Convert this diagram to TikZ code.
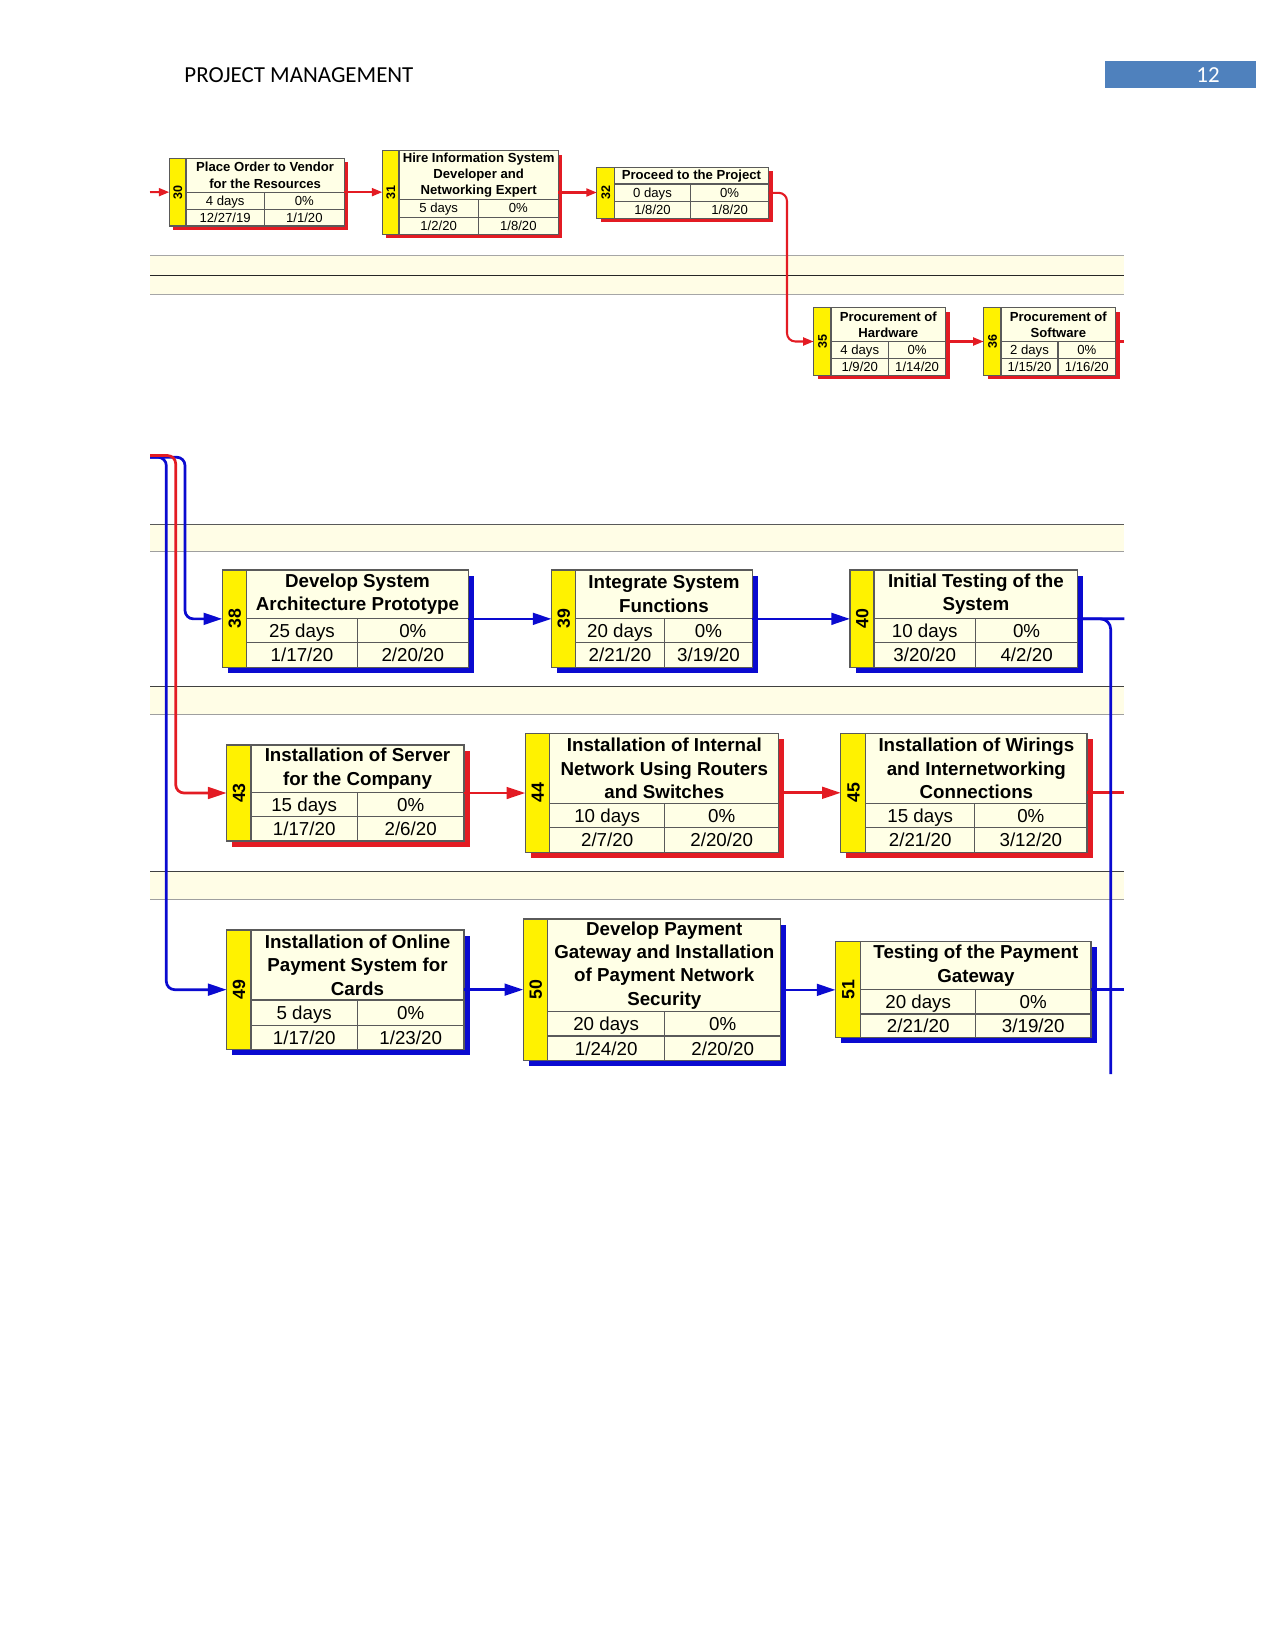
\documentclass[tikz,border=0pt]{standalone}
\usepackage{fontspec}
\setmainfont{Liberation Sans}
\newfontfamily\hdrfont{Carlito}
\usetikzlibrary{arrows.meta}
\definecolor{cream}{HTML}{FFFFE6}
\definecolor{bandfill}{HTML}{FFFDE6}
\definecolor{boxline}{HTML}{5A5A5A}
\definecolor{pertred}{HTML}{E31B23}
\definecolor{pertblue}{HTML}{0A0AD0}
\definecolor{hdrblue}{HTML}{4F81BD}
\tikzset{
  taskbox/.style={draw=boxline, line width=0.6pt, fill=cream, inner sep=0pt, outer sep=0pt, rectangle},
  divline/.style={draw=boxline, line width=0.5pt},
  redconn/.style={draw=pertred, line width=1pt},
  redconnB/.style={draw=pertred, line width=1.3pt},
  blueconn/.style={draw=pertblue, line width=1.3pt},
  tipS/.style={-{Triangle[length=5pt,width=3.8pt]}},
  tipB/.style={-{Triangle[length=9pt,width=5.6pt]}},
  small title/.style={font=\bfseries\fontsize{6.3}{7.8}\selectfont, align=center, inner sep=0pt},
  small cell/.style={font=\fontsize{6.3}{7.6}\selectfont, inner sep=0pt, text height=4.5pt, text depth=0pt},
  small num/.style={font=\bfseries\fontsize{6}{7}\selectfont, inner sep=0pt, text height=4.3pt, text depth=0pt},
  big title/.style={font=\bfseries\fontsize{9}{11.2}\selectfont, align=center, inner sep=0pt},
  big cell/.style={font=\fontsize{9}{11}\selectfont, inner sep=0pt, text height=6.4pt, text depth=0pt},
  big num/.style={font=\bfseries\fontsize{8.5}{9}\selectfont, inner sep=0pt, text height=6pt, text depth=0pt},
  bandline/.style={line width=0.4pt},
}
\newcommand\tgeom[9]{\def\tname{#1}\def\txa{#2}\def\tya{#3}\def\txb{#4}\def\tyb{#5}\def\txs{#6}\def\tyt{#7}\def\tyr{#8}\def\txc{#9}}
\newcommand\ttask[9]{%
  \fill[#1] ({\txa+#2},{\tya+#2}) rectangle ({\txb+#2},{\tyb+#2});
  \node[taskbox, minimum width={(\txb-\txa)*0.48pt}, minimum height={(\tyb-\tya)*0.48pt}] (\tname) at ({(\txa+\txb)/2},{(\tya+\tyb)/2}) {};
  \fill[yellow] (\txa,\tya) rectangle (\txs,\tyb);
  \draw[divline] (\txs,\tya) -- (\txs,\tyb) (\txs,\tyt) -- (\txb,\tyt) (\txs,\tyr) -- (\txb,\tyr) (\txc,\tyt) -- (\txc,\tyb);
  \draw[draw=boxline, line width=0.6pt] (\txa,\tya) rectangle (\txb,\tyb);
  \node[#3 title] (\tname-t) at ({(\txs+\txb)/2},{(\tya+\tyt)/2}) {#5};
  \node[#3 cell] (\tname-d) at ({(\txs+\txc)/2},{(\tyt+\tyr)/2}) {#6};
  \node[#3 cell] (\tname-p) at ({(\txc+\txb)/2},{(\tyt+\tyr)/2}) {#7};
  \node[#3 cell] (\tname-s) at ({(\txs+\txc)/2},{(\tyr+\tyb)/2}) {#8};
  \node[#3 cell] (\tname-f) at ({(\txc+\txb)/2},{(\tyr+\tyb)/2}) {#9};
  \node[#3 num, rotate=90] (\tname-n) at ({(\txa+\txs)/2},{(\tya+\tyb)/2}) {#4};
}
\begin{document}
\begin{tikzpicture}[x=0.48pt,y=-0.48pt]
\useasboundingbox (0,0) rectangle (1275,1651);
% header
\node[font=\hdrfont\fontsize{11}{13}\selectfont, anchor=base west, inner sep=0pt] (hdr) at (184,82.5) {PROJECT MANAGEMENT};
\node[fill=hdrblue, minimum width={151*0.48pt}, minimum height={27*0.48pt}, inner sep=0pt] (pg) at (1180.5,74.5) {};
\node[font=\hdrfont\fontsize{11}{13}\selectfont, anchor=base, text=white, inner sep=0pt] (pgnum) at (1208,82.5) {12};
% bands
\fill[bandfill] (150,255.7) rectangle (1124.4,294.3);
\draw[bandline, gray!70] (150,255.7) -- (1124.4,255.7);
\draw[bandline, black!85] (150,275) -- (1124.4,275);
\draw[bandline, gray!70] (150,294.3) -- (1124.4,294.3);
\fill[bandfill] (150,524.3) rectangle (1124.4,551.7);
\draw[bandline, black!65] (150,524.3) -- (1124.4,524.3);
\draw[bandline, gray!75] (150,551.7) -- (1124.4,551.7);
\fill[bandfill] (150,686) rectangle (1124.4,714);
\draw[bandline, black!75] (150,686) -- (1124.4,686);
\draw[bandline, gray!75] (150,714) -- (1124.4,714);
\fill[bandfill] (150,871.7) rectangle (1124.4,899);
\draw[bandline, black!75] (150,871.7) -- (1124.4,871.7);
\draw[bandline, gray!75] (150,899) -- (1124.4,899);
% small tasks
\tgeom{n30}{169.3}{158.3}{344.3}{226}{186}{192.3}{209.3}{264.3}
\ttask{pertred}{4}{small}{30}{Place Order to Vendor\\for the Resources}{4 days}{0\%}{12/27/19}{1/1/20}
\tgeom{n31}{382.3}{150.7}{558.3}{234.3}{399}{199.3}{217.3}{478.3}
\ttask{pertred}{4}{small}{31}{Hire Information System\\Developer and\\Networking Expert}{5 days}{0\%}{1/2/20}{1/8/20}
\tgeom{n32}{596.8}{167.3}{768.6}{218.3}{614.3}{184}{201.3}{690.7}
\ttask{pertred}{4}{small}{32}{Proceed to the Project}{0 days}{0\%}{1/8/20}{1/8/20}
\tgeom{n35}{813.6}{307.7}{945.7}{375.3}{831}{341.3}{358.3}{888.5}
\ttask{pertred}{4}{small}{35}{Procurement of\\Hardware}{4 days}{0\%}{1/9/20}{1/14/20}
\tgeom{n36}{983.6}{307.7}{1115.7}{375.3}{1001}{341.3}{358.3}{1058}
\ttask{pertred}{4}{small}{36}{Procurement of\\Software}{2 days}{0\%}{1/15/20}{1/16/20}
% big tasks
\tgeom{n38}{222.3}{570}{468.3}{667.7}{246.7}{618.3}{642.7}{357.3}
\ttask{pertblue}{5.5}{big}{38}{Develop System\\Architecture Prototype}{25 days}{0\%}{1/17/20}{2/20/20}
\tgeom{n39}{551.5}{570}{752.4}{667.7}{575.6}{618.3}{642.7}{664.4}
\ttask{pertblue}{5.5}{big}{39}{Integrate System\\Functions}{20 days}{0\%}{2/21/20}{3/19/20}
\tgeom{n40}{850}{570}{1077.7}{667.7}{874}{618.3}{642.7}{975.5}
\ttask{pertblue}{5.5}{big}{40}{Initial Testing of the\\System}{10 days}{0\%}{3/20/20}{4/2/20}
\tgeom{n43}{226.7}{745}{464}{841}{251}{792.3}{816.7}{357.3}
\ttask{pertred}{5.5}{big}{43}{Installation of Server\\for the Company}{15 days}{0\%}{1/17/20}{2/6/20}
\tgeom{n44}{525.3}{733.3}{778.8}{852.3}{549.8}{803.3}{827.7}{664.5}
\ttask{pertred}{5.5}{big}{44}{Installation of Internal\\Network Using Routers\\and Switches}{10 days}{0\%}{2/7/20}{2/20/20}
\tgeom{n45}{840.8}{733.3}{1087}{852.3}{865.7}{803.3}{827.7}{974.7}
\ttask{pertred}{5.5}{big}{45}{Installation of Wirings\\and Internetworking\\Connections}{15 days}{0\%}{2/21/20}{3/12/20}
\tgeom{n49}{226.7}{930}{464}{1049.3}{251}{1000}{1025.7}{357.3}
\ttask{pertblue}{5.5}{big}{49}{Installation of Online\\Payment System for\\Cards}{5 days}{0\%}{1/17/20}{1/23/20}
\tgeom{n50}{523.3}{919}{780.8}{1060.7}{547.8}{1011.7}{1036}{664.5}
\ttask{pertblue}{5.5}{big}{50}{Develop Payment\\Gateway and Installation\\of Payment Network\\Security}{20 days}{0\%}{1/24/20}{2/20/20}
\tgeom{n51}{835.5}{941.7}{1091}{1037.7}{860.8}{989.3}{1014}{975.5}
\ttask{pertblue}{5.5}{big}{51}{Testing of the Payment\\Gateway}{20 days}{0\%}{2/21/20}{3/19/20}
% top connectors
\coordinate (in30) at (150,192.2);
\draw[redconn, tipS] (in30) -- (n30.west);
\draw[redconn, tipS] (n30.east) -- (n31.west |- n30.east);
\draw[redconn, tipS] (n31.east) -- (n32.west |- n31.east);
\coordinate (c32) at (787,260);
\draw[redconn, tipS, rounded corners=4] (n32.east) -| (c32) |- (n35.west);
\draw[redconn, tipS] (n35.east) -- (n36.west);
\coordinate (out36) at (1124.4,341.5);
\draw[redconn] (n36.east) -- (out36);
% lower incoming connectors
\coordinate (in38) at (150,457.2);
\coordinate (t38) at (185,480);
\draw[blueconn, tipB, rounded corners=4] (in38) -| (t38) |- (n38.west);
\coordinate (in49) at (150,457.2);
\coordinate (t49) at (166.3,480);
\draw[blueconn, tipB, rounded corners=4] (in49) -| (t49) |- (n49.west);
\coordinate (in43) at (150,455.5);
\coordinate (t43) at (175.7,480);
\draw[redconnB, tipB, rounded corners=4] (in43) -| (t43) |- (n43.west);
% row connectors
\draw[blueconn, tipB] (n38.east) -- (n39.west |- n38.east);
\draw[blueconn, tipB] (n39.east) -- (n40.west |- n39.east);
\coordinate (out40) at (1124.4,618.8);
\draw[blueconn] (n40.east) -- (out40);
\draw[redconnB, tipB] (n43.east) -- (n44.west |- n43.east);
\draw[redconnB, tipB] (n44.east) -- (n45.west |- n44.east);
\coordinate (out45) at (1124.4,792.8);
\draw[redconnB] (n45.east) -- (out45);
\draw[blueconn, tipB] (n49.east) -- (n50.west |- n49.east);
\draw[blueconn, tipB] (n50.east) -- (n51.west |- n50.east);
\coordinate (out51) at (1124.4,989.7);
\draw[blueconn] (n51.east) -- (out51);
\coordinate (end40) at (1110.7,1074);
\draw[blueconn, rounded corners=5] (n40.east) -| (end40);
\end{tikzpicture}
\end{document}
